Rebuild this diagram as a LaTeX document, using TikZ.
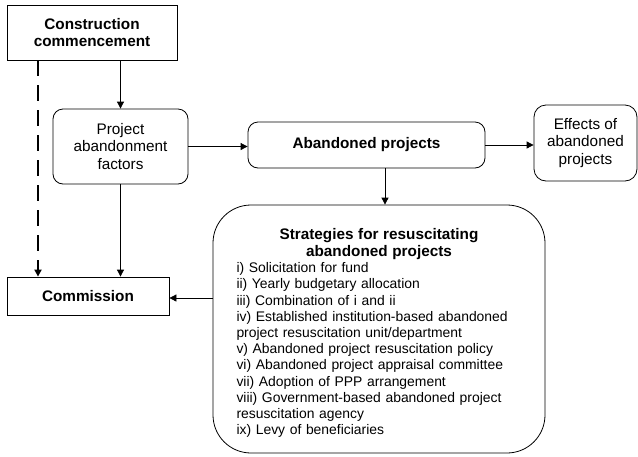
\documentclass[tikz,border=0pt]{standalone}
\usepackage{fontspec}
\setmainfont{Liberation Sans}
\usetikzlibrary{arrows.meta}

\begin{document}
\begin{tikzpicture}[x=1pt,y=-1pt,line width=0.8pt,
  sqbox/.style={draw,align=center,inner sep=2pt,font=\bfseries\fontsize{15.3}{17.5}\selectfont},
  rbox/.style={draw,rounded corners=10pt,align=center,inner sep=2pt,font=\fontsize{15.3}{17.5}\selectfont},
  bigbox/.style={draw,rounded corners=38pt,text width=285pt,align=left,inner sep=2pt,font=\fontsize{13.9}{16.2}\selectfont},
  arr/.style={-{Triangle[length=7pt,width=7pt]}},
  darr/.style={arr,line width=2pt,dash pattern=on 16pt off 9pt}]
  \useasboundingbox (0,0) rectangle (638,456);
  \node[sqbox,minimum width=170,minimum height=55] (constr) at (92,32.5) {Construction\\commencement};
  \node[rbox,minimum width=135,minimum height=75] (paf) at (120.5,146.5) {Project\\abandonment\\factors};
  \node[rbox,minimum width=237,minimum height=46,font=\bfseries\fontsize{15.3}{17.5}\selectfont] (aband) at (366.5,145) {Abandoned projects};
  \node[rbox,rounded corners=12pt,minimum width=103,minimum height=76] (eff) at (585.5,143) {Effects of\\abandoned\\projects};
  \node[sqbox,minimum width=162,minimum height=38] (comm) at (88,296) {Commission};
  \node[bigbox,minimum width=332,minimum height=248] (strat) at (379,329) {%
    {\centering\bfseries\fontsize{15.3}{17}\selectfont\rule{0pt}{19pt}Strategies for resuscitating\\abandoned projects\par}
    i) Solicitation for fund\\
    ii) Yearly budgetary allocation\\
    iii) Combination of i and ii\\
    iv) Established institution-based abandoned\\
    project resuscitation unit/department\\
    v) Abandoned project resuscitation policy\\
    vi) Abandoned project appraisal committee\\
    vii) Adoption of PPP arrangement\\
    viii) Government-based abandoned project\\
    resuscitation agency\\
    ix) Levy of beneficiaries};
  \coordinate (dtop) at (38,60);
  \draw[darr] (dtop) -- (dtop |- comm.north);
  \draw[arr] (constr.south -| paf.north) -- (paf.north);
  \draw[arr] (paf.south) -- (paf.south |- comm.north);
  \draw[arr] (paf.east) -- (paf.east -| aband.west);
  \draw[arr] (aband.east) -- (aband.east -| eff.west);
  \draw[arr] ([xshift=18.5pt]aband.south) -- ([xshift=18.5pt]aband.south |- strat.north);
  \draw[arr] (strat.west |- 0,298) -- (comm.east |- 0,298);
\end{tikzpicture}
\end{document}
